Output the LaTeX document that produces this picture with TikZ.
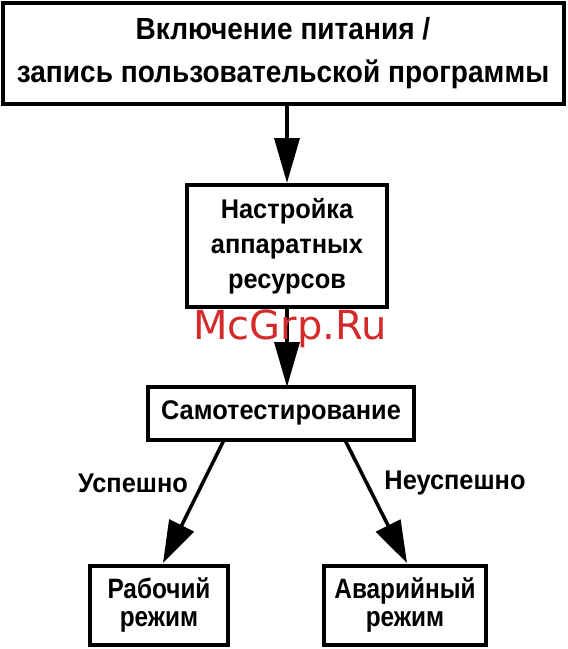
\documentclass[tikz,border=0pt]{standalone}
\usepackage{fontspec}
\setmainfont{Liberation Sans}[FakeStretch=0.94]
\newfontfamily\topfont{Liberation Sans}[FakeStretch=0.92]
\newfontfamily\botfont{Liberation Sans}[FakeStretch=0.87]
\newfontfamily\wmfont{DejaVu Sans}
\usetikzlibrary{arrows.meta}
\definecolor{wmred}{HTML}{D42A2A}
\tikzset{
  box/.style={draw=black, line width=4pt, inner sep=0pt, font=\bfseries\fontsize{27}{35}\selectfont, align=center},
  botbox/.style={box, minimum height=79pt, font=\botfont\bfseries\fontsize{28}{28.5}\selectfont},
  arr/.style={line width=3.5pt, -{Triangle[length=45pt,width=25pt]}},
  diag/.style={line width=3.5pt, -{Triangle[length=42pt,width=27pt]}},
  lbl/.style={font=\bfseries\fontsize{27}{30}\selectfont},
}
\begin{document}
\begin{tikzpicture}[x=1pt,y=-1pt]
\useasboundingbox (0,0) rectangle (568,649);
% boxes
\node[box, minimum width=561pt, minimum height=101pt, font=\topfont\bfseries\fontsize{30.5}{43}\selectfont] (top) at (283,53) {Включение питания /\\запись пользовательской программы};
\node[box, minimum width=200pt, minimum height=122pt] (mid) at (287,246) {Настройка\\аппаратных\\ресурсов};
\node[box, minimum width=266pt, minimum height=53pt] (self) at (281,413) {Самотестирование};
\node[botbox, minimum width=138pt] (work) at (159,605) {Рабочий\\режим};
\node[botbox, minimum width=162pt] (fail) at (405,605) {Аварийный\\режим};
% connectors
\coordinate (t1) at (287,103);
\draw[arr] (t1) -- (mid.north);
\draw[arr] (mid.south) -- (287,387);
\coordinate (ls) at (224,440);
\coordinate (le) at (163,563);
\coordinate (rs) at (345,440);
\coordinate (re) at (407,563);
\draw[diag] (ls) -- (le);
\draw[diag] (rs) -- (re);
\node[lbl] (ok) at (133,483) {Успешно};
\node[lbl] (nok) at (455,483) {Неуспешно};
% watermark
\node[text=wmred, font=\wmfont\fontsize{40}{44}\selectfont] (wm) at (290,329) {McGrp.Ru};
\end{tikzpicture}
\end{document}
